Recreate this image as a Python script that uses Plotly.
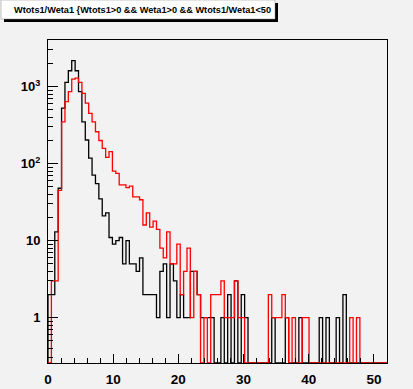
import numpy as np
import plotly.graph_objects as go

# ---- data ----
bin_low = 0.0
bin_high = 52.0
n_bins = 100

black_counts = [
    2, 2, 13, 48, 525, 1140, 1610, 2180, 1610, 860,
    350, 203, 118, 71, 55, 35, 21, 23, 11, 9,
    10, 11, 5, 10, 5, 5, 4, 6, 2, 2,
    2, 2, 1, 4, 5, 1, 5, 3, 1, 2,
    1, 1, 4, 4, 2, 1, 1, 1, 1, 0,
    0, 1, 0, 2, 0, 3, 0, 2, 1, 0,
    0, 0, 0, 0, 0, 0, 1, 0, 0, 0,
    1, 0, 0, 0, 1, 0, 0, 0, 0, 0,
    1, 0, 1, 0, 0, 1, 0, 2, 0, 0,
    0, 0, 0, 0, 0, 0, 0, 0, 0, 0,
]

red_counts = [
    0, 3, 3, 45, 350, 640, 860, 1250, 1290, 1140,
    820, 610, 450, 350, 260, 200, 158, 121, 143, 80,
    75, 53, 53, 49, 51, 37, 37, 34, 16, 23,
    15, 18, 14, 8, 6, 13, 5, 5, 9, 2,
    4, 8, 1, 4, 2, 0, 1, 0, 2, 2,
    2, 3, 1, 1, 1, 3, 1, 1, 0, 0,
    0, 0, 0, 0, 0, 2, 1, 1, 1, 2,
    1, 0, 1, 0, 0, 1, 1, 0, 0, 0,
    0, 0, 0, 0, 0, 0, 0, 0, 0, 1,
    0, 1, 0, 0, 0, 0, 0, 0, 0, 0,
]

x_tick_vals = [0, 10, 20, 30, 40, 50]
y_tick_vals = [1, 10, 100, 1000]
y_tick_text = ["1", "10", "10<sup>2</sup>", "10<sup>3</sup>"]
title_text = "Wtots1/Weta1 {Wtots1>0 && Weta1>0 && Wtots1/Weta1<50"

# ---- layout geometry ----
W, H = 413, 389
L, R, T, B = 48, 26, 40, 26
log_lo, log_hi = -0.588, 3.606
y_floor = 10 ** log_lo
bg = "#f2f2f2"
FONT = "Liberation Sans"

edges = np.linspace(bin_low, bin_high, n_bins + 1)


def step_series(counts):
    c = np.asarray(counts, dtype=float)
    c = np.where(c > 0, c, y_floor)
    ys = np.concatenate([[y_floor], c, [c[-1]], [y_floor]])
    xs = np.concatenate([[edges[0]], edges, [edges[-1]]])
    return xs, ys


def px2paper(px, py):
    return (px - L) / (W - L - R), (H - B - py) / (H - T - B)


fig = go.Figure()
for counts, color in ((black_counts, "#000000"), (red_counts, "#ff0000")):
    xs, ys = step_series(counts)
    fig.add_trace(go.Scatter(x=xs, y=ys, mode="lines", line_shape="hv",
                             line=dict(color=color, width=1.3),
                             hoverinfo="skip", showlegend=False))

minor_y = []
for dec in range(-1, 4):
    for m in range(2, 10):
        v = m * 10 ** dec
        if y_floor < v < 10 ** log_hi:
            minor_y.append(v)

fig.update_layout(
    width=W, height=H,
    margin=dict(l=L, r=R, t=T, b=B, pad=0, autoexpand=False),
    paper_bgcolor=bg, plot_bgcolor=bg,
    showlegend=False,
    xaxis=dict(range=[bin_low, bin_high], showgrid=False, zeroline=False,
               automargin=False,
               showline=True, linecolor="black", linewidth=1, mirror=True,
               ticks="inside", ticklen=9, tickwidth=1, tickcolor="black",
               tickvals=x_tick_vals,
               minor=dict(ticks="inside", ticklen=5, tickwidth=1,
                          tickcolor="black", dtick=2),
               tickfont=dict(family=FONT, size=13.5, color="black", weight="bold"),
               ticklabelstandoff=4),
    yaxis=dict(type="log", range=[log_lo, log_hi], showgrid=False,
               automargin=False,
               zeroline=False, showline=True, linecolor="black", linewidth=1,
               mirror=True, ticks="inside", ticklen=10, tickwidth=1,
               tickcolor="black", tickvals=y_tick_vals, ticktext=y_tick_text,
               minor=dict(ticks="inside", ticklen=5, tickwidth=1,
                          tickcolor="black", tickvals=minor_y),
               tickfont=dict(family=FONT, size=13, color="black", weight="bold"),
               ticklabelstandoff=4),
)

# title pave with shadow
sx0, sy0 = px2paper(4, 22)
sx1, sy1 = px2paper(278, 3)
fig.add_shape(type="rect", xref="paper", yref="paper", x0=sx0, y0=sy0,
              x1=sx1, y1=sy1, fillcolor="black", line=dict(width=0), layer="above")
bx0, by0 = px2paper(1, 19)
bx1, by1 = px2paper(275, 0)
fig.add_shape(type="rect", xref="paper", yref="paper", x0=bx0, y0=by0,
              x1=bx1, y1=by1, fillcolor="white", line=dict(color="#888888", width=0.5),
              layer="above")
tx, ty = px2paper(12, 10)
fig.add_annotation(text="<b>" + title_text + "</b>", xref="paper", yref="paper",
                   x=tx, y=ty, xanchor="left", yanchor="middle", showarrow=False,
                   font=dict(family=FONT, size=9.2, color="black"))

fig.write_html("out.html")
